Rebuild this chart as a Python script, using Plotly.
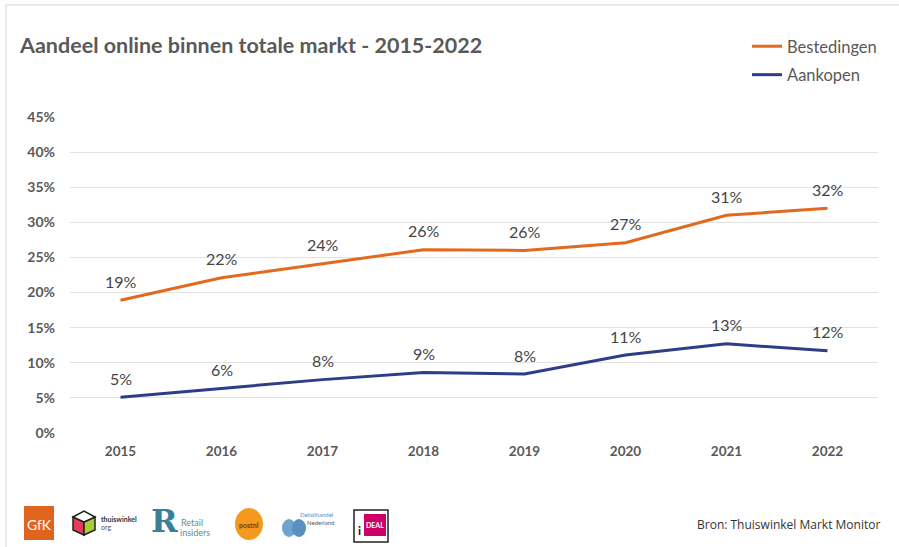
import plotly.graph_objects as go

years = ["2015", "2016", "2017", "2018", "2019", "2020", "2021", "2022"]
bestedingen = [0.189, 0.221, 0.241, 0.261, 0.260, 0.271, 0.310, 0.320]
aankopen = [0.051, 0.064, 0.076, 0.086, 0.084, 0.111, 0.127, 0.117]
y_ticks = [0, 0.05, 0.10, 0.15, 0.20, 0.25, 0.30, 0.35, 0.40, 0.45]

ORANGE = "#E2691E"
BLUE = "#2E3D87"
GREY = "#595959"

W, H = 899, 547
ML, MR, MT, MB = 70, 21, 117, 114
PW, PH = W - ML - MR, H - MT - MB

def px(x):
    return (x - ML) / PW

def py(y):
    return (H - MB - y) / PH

fig = go.Figure()
fig.add_trace(go.Scatter(x=years, y=bestedingen, mode="lines", name="Bestedingen",
                         line=dict(color=ORANGE, width=3), legendgroup="a"))
fig.add_trace(go.Scatter(x=years, y=aankopen, mode="lines", name="Aankopen",
                         line=dict(color=BLUE, width=3), legendgroup="b"))

annotations = []
for series in (bestedingen, aankopen):
    for i, v in enumerate(series):
        annotations.append(dict(x=i, y=v, xref="x", yref="y", text=f"{round(v*100):.0f}%",
                                showarrow=False, yshift=19, xanchor="center",
                                font=dict(family="Lato", size=16, color="#454545")))

annotations.append(dict(xref="paper", yref="paper", x=px(17), y=py(45), xanchor="left", yanchor="middle",
                        text="<b>Aandeel online binnen totale markt - 2015-2022</b>", showarrow=False,
                        font=dict(family="Lato", size=21.5, color=GREY)))
annotations.append(dict(xref="paper", yref="paper", x=px(882), y=py(524), xanchor="right", yanchor="middle",
                        text="Bron: Thuiswinkel Markt Monitor", showarrow=False,
                        font=dict(family="Open Sans", size=12, color="#333333")))


def logo_text(x, y, text, size, color, family="Lato", anchor="center"):
    annotations.append(dict(xref="paper", yref="paper", x=px(x), y=py(y), xanchor=anchor, yanchor="middle",
                            text=text, showarrow=False, font=dict(family=family, size=size, color=color)))


shapes = []
# frame
shapes.append(dict(type="rect", xref="paper", yref="paper", x0=px(6), x1=px(920), y0=py(5), y1=py(600),
                   line=dict(color="#E3E3E3", width=1.5), fillcolor="rgba(0,0,0,0)", layer="below"))

# logos (approximations)
shapes.append(dict(type="rect", xref="paper", yref="paper", x0=px(24), x1=px(54), y0=py(540), y1=py(506),
                   fillcolor="#E0641E", line=dict(width=0)))
logo_text(39, 524, "GfK", 14, "white")
# thuiswinkel cube
shapes.append(dict(type="path", xref="paper", yref="paper",
                   path=f"M {px(73)},{py(517)} L {px(84)},{py(522)} L {px(84)},{py(535)} L {px(73)},{py(530)} Z",
                   fillcolor="#E33D5A", line=dict(color="#222", width=1.5)))
shapes.append(dict(type="path", xref="paper", yref="paper",
                   path=f"M {px(84)},{py(522)} L {px(95)},{py(517)} L {px(95)},{py(530)} L {px(84)},{py(535)} Z",
                   fillcolor="#A6CE39", line=dict(color="#222", width=1.5)))
shapes.append(dict(type="path", xref="paper", yref="paper",
                   path=f"M {px(73)},{py(517)} L {px(84)},{py(511)} L {px(95)},{py(517)} L {px(84)},{py(522)} Z",
                   fillcolor="white", line=dict(color="#222", width=1.5)))
logo_text(99, 519, "<b>thuiswinkel</b>", 7, "#333", anchor="left")
logo_text(99, 527, "org", 7, "#555", anchor="left")
# Retail insiders
logo_text(164, 521, "<b>R</b>", 32, "#3A7F95", family="DejaVu Serif")
logo_text(179, 522, "Retail", 9, "#5A8EA0", anchor="left")
logo_text(178, 532, "insiders", 9, "#5A8EA0", anchor="left")
# PostNL
shapes.append(dict(type="circle", xref="paper", yref="paper", x0=px(235), x1=px(263), y0=py(540), y1=py(508),
                   fillcolor="#F39A1E", line=dict(width=0)))
logo_text(249, 525, "<b>postnl</b>", 7, "#7A3B0E")
# Detailhandel Nederland
shapes.append(dict(type="circle", xref="paper", yref="paper", x0=px(282), x1=px(296), y0=py(537), y1=py(519),
                   fillcolor="#6FA3D0", line=dict(width=0)))
shapes.append(dict(type="circle", xref="paper", yref="paper", x0=px(292), x1=px(306), y0=py(537), y1=py(519),
                   fillcolor="#5A8FC0", line=dict(width=0)))
logo_text(316, 514, "Detailhandel", 6, "#4A90D0")
logo_text(320, 522, "Nederland", 6, "#555")
# iDEAL
shapes.append(dict(type="rect", xref="paper", yref="paper", x0=px(354), x1=px(388), y0=py(542), y1=py(510),
                   fillcolor="white", line=dict(color="#222", width=1.5)))
shapes.append(dict(type="rect", xref="paper", yref="paper", x0=px(364), x1=px(386), y0=py(536), y1=py(514),
                   fillcolor="#CC0066", line=dict(width=0)))
logo_text(375, 525, "<b>DEAL</b>", 7, "white")
logo_text(359, 530, "<b>i</b>", 12, "#111")

fig.update_layout(
    width=W, height=H,
    margin=dict(l=ML, r=MR, t=MT, b=MB),
    paper_bgcolor="white", plot_bgcolor="white",
    showlegend=True,
    legend=dict(x=px(747), y=py(29), xanchor="left", yanchor="top",
                font=dict(family="Lato", size=16.5, color=GREY),
                bgcolor="rgba(0,0,0,0)", tracegroupgap=4, itemwidth=30),
    xaxis=dict(type="category", range=[-0.5, 7.5], showgrid=False, showline=False, zeroline=False,
               ticks="", tickfont=dict(family="Lato", size=13.5, color=GREY, weight="bold"),
               ticklabelstandoff=8, fixedrange=True),
    yaxis=dict(range=[0, 0.45], tickvals=y_ticks, tickformat=".0%", showgrid=True, gridcolor="#E2E2E2",
               gridwidth=1, zeroline=False, showline=False, ticks="",
               tickfont=dict(family="Lato", size=14, color=GREY, weight="bold"),
               ticklabelstandoff=14, fixedrange=True),
    annotations=annotations,
    shapes=shapes,
)

fig.write_html("out.html", config={"displayModeBar": False},
               post_script="document.body.style.margin='0';")
